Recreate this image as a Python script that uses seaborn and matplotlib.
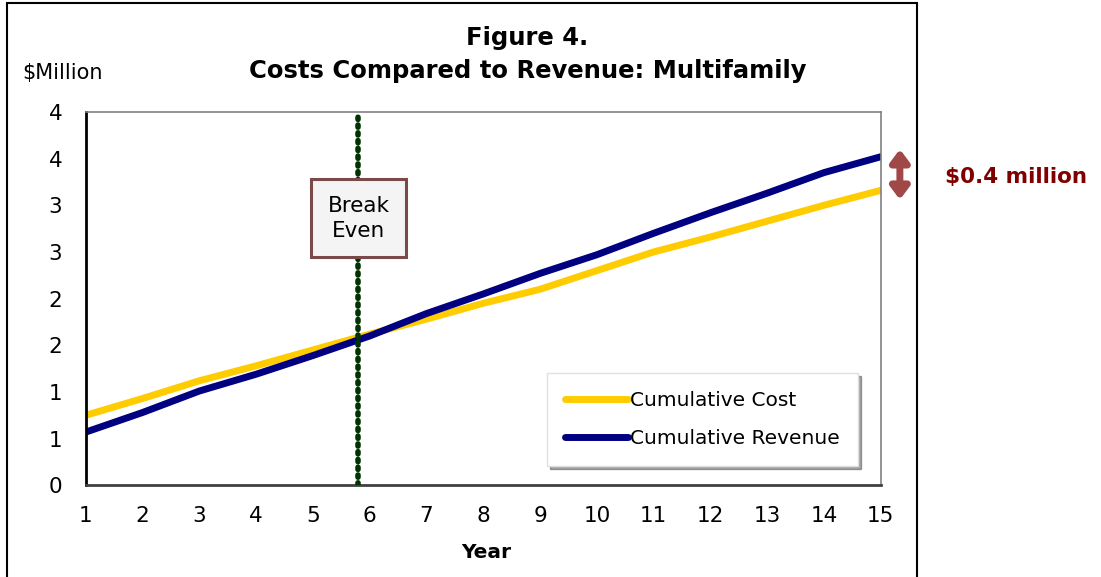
import pandas as pd
import matplotlib
matplotlib.use("Agg")
import matplotlib.pyplot as plt
import matplotlib.patches as mpatches
from matplotlib.ticker import FixedLocator, FixedFormatter
import seaborn as sns

# -----------------------------
# Data
# -----------------------------
years = list(range(1, 16))
cumulative_cost = [0.75, 0.93, 1.12, 1.28, 1.45, 1.62, 1.78, 1.95, 2.10,
                   2.30, 2.50, 2.66, 2.83, 3.00, 3.16]
cumulative_revenue = [0.57, 0.78, 1.01, 1.19, 1.39, 1.60, 1.84, 2.05, 2.27,
                      2.47, 2.70, 2.92, 3.13, 3.35, 3.52]
series_names = ["Cumulative Cost", "Cumulative Revenue"]
break_even_year = 5.8
gap_label = "$0.4 million"
y_ticks = [0, 0.5, 1, 1.5, 2, 2.5, 3, 3.5, 4]
y_tick_labels = ["0", "1", "1", "2", "2", "3", "3", "4", "4"]

df = pd.DataFrame({
    "Year": years * 2,
    "Value": cumulative_cost + cumulative_revenue,
    "Series": [series_names[0]] * len(years) + [series_names[1]] * len(years),
})

# -----------------------------
# Plot
# -----------------------------
sns.set_style("white")
plt.rcParams["font.family"] = ["DejaVu Sans"]
plt.rcParams["text.color"] = "black"
plt.rcParams["xtick.color"] = "black"
plt.rcParams["ytick.color"] = "black"

fig = plt.figure(figsize=(11.01, 5.77), dpi=100)
ax = fig.add_axes([0.078, 0.159, 0.722, 0.647])

sns.lineplot(
    data=df, x="Year", y="Value", hue="Series",
    palette={series_names[0]: "#FFCC00", series_names[1]: "#000080"},
    linewidth=5, ax=ax, legend=False,
)

ax.set_xlim(1, 15)
ax.set_ylim(0, 4)
ax.set_xticks(years)
ax.yaxis.set_major_locator(FixedLocator(y_ticks))
ax.yaxis.set_major_formatter(FixedFormatter(y_tick_labels))
ax.tick_params(axis="x", labelsize=15.5, length=5, width=1.5, direction="in",
               pad=15)
ax.tick_params(axis="y", labelsize=15.5, length=0, pad=17)
ax.set_xlabel("")
ax.set_ylabel("")

for side in ["top", "right"]:
    ax.spines[side].set_color("#808080")
    ax.spines[side].set_linewidth(1.2)
ax.spines["left"].set_color("black")
ax.spines["left"].set_linewidth(2)
ax.spines["bottom"].set_color("#404040")
ax.spines["bottom"].set_linewidth(2)

# break-even marker
ax.plot([break_even_year, break_even_year], [0, 3.95], color="#003300",
        linewidth=4, linestyle=(0, (0.4, 1.0)), dash_capstyle="round",
        zorder=3)
ax.text(break_even_year, 2.86, "Break\nEven", ha="center", va="center",
        fontsize=15.5, linespacing=1.35, zorder=5,
        bbox=dict(boxstyle="square,pad=0.75", facecolor="#F4F4F4",
                  edgecolor="#7A4A4A", linewidth=2.2))

# legend
handles = [plt.Line2D([0], [0], color="#FFCC00", lw=5, solid_capstyle="round"),
           plt.Line2D([0], [0], color="#000080", lw=5, solid_capstyle="round")]
leg = ax.legend(handles, series_names, loc="lower right",
                bbox_to_anchor=(0.971, 0.051), fontsize=14.5, frameon=True,
                fancybox=False, shadow=True, edgecolor="#E0E0E0",
                handlelength=3.1, handletextpad=0.1, labelspacing=0.95,
                borderpad=0.9, borderaxespad=0)
leg.get_frame().set_linewidth(1)

# gap arrow
ax.annotate("", xy=(1.024, 3.60), xytext=(1.024, 3.06),
            xycoords=("axes fraction", "data"),
            textcoords=("axes fraction", "data"),
            arrowprops=dict(arrowstyle="<|-|>,head_length=0.4,head_width=0.3",
                            color="#A04848", lw=5,
                            mutation_scale=18, shrinkA=0, shrinkB=0),
            annotation_clip=False)
fig.text(0.858, 0.693, gap_label, ha="left", va="center", fontsize=15.5,
         fontweight="bold", color="#800000")

# titles and labels
fig.text(0.479, 0.934, "Figure 4.", ha="center", va="center", fontsize=17.5,
         fontweight="bold")
fig.text(0.479, 0.877, "Costs Compared to Revenue: Multifamily", ha="center",
         va="center", fontsize=17.5, fontweight="bold")
fig.text(0.020, 0.873, "$Million", ha="left", va="center", fontsize=15)
fig.text(0.442, 0.043, "Year", ha="center", va="center", fontsize=14.5,
         fontweight="bold")

# outer chart frame
fig.patches.append(mpatches.Rectangle(
    (0.0065, -0.02), 0.826, 1.015, transform=fig.transFigure,
    fill=False, edgecolor="black", linewidth=1.5))

fig.savefig("out.png", dpi=100)
